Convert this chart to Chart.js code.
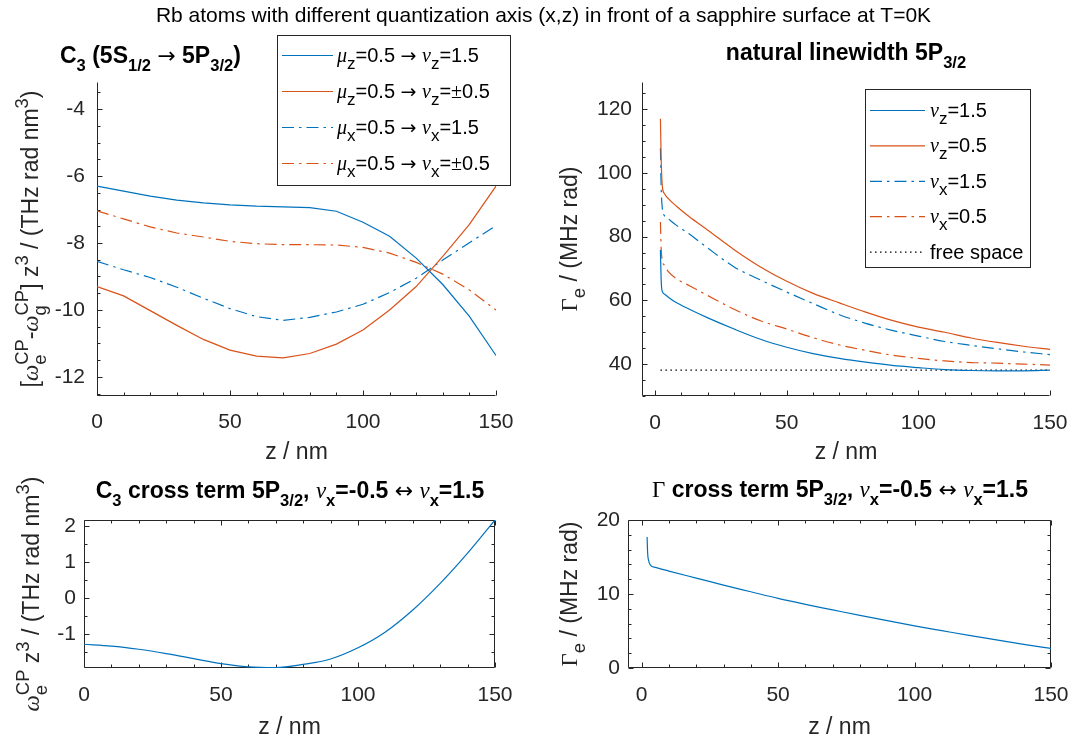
<!DOCTYPE html>
<html>
<head>
<meta charset="utf-8">
<script src="https://cdn.jsdelivr.net/npm/chart.js@4.4.2/dist/chart.umd.min.js"></script>
<style>
  html, body { margin: 0; padding: 0; background: #fff; }
  #fig { position: relative; width: 1086px; height: 742px; }
  #fig canvas { position: absolute; left: 0; top: 0; }
</style>
</head>
<body>
<div id="fig">
  <canvas id="c3" width="1086" height="742"></canvas>
  <canvas id="gamma" width="1086" height="742"></canvas>
  <canvas id="c3cross" width="1086" height="742"></canvas>
  <canvas id="gammacross" width="1086" height="742"></canvas>
</div>
<script>
const SUPTITLE = 'Rb atoms with different quantization axis (x,z) in front of a sapphire surface at T=0K';

// C3 coefficients, z in nm
const z_c3 = [0, 10, 20, 30, 40, 50, 60, 70, 80, 90, 100, 110, 120, 130, 140, 150];
const c3_z15 = [-6.30, -6.45, -6.60, -6.72, -6.80, -6.86, -6.90, -6.92, -6.94, -7.05, -7.38, -7.80, -8.45, -9.24, -10.19, -11.36];
const c3_z05 = [-9.30, -9.58, -10.02, -10.46, -10.88, -11.20, -11.38, -11.43, -11.30, -11.02, -10.60, -10.00, -9.30, -8.40, -7.44, -6.30];
const c3_x15 = [-8.55, -8.80, -9.03, -9.32, -9.65, -9.96, -10.20, -10.31, -10.22, -10.06, -9.83, -9.48, -9.05, -8.51, -7.99, -7.48];
const c3_x05 = [-7.04, -7.28, -7.52, -7.70, -7.82, -7.95, -8.02, -8.05, -8.05, -8.06, -8.13, -8.30, -8.58, -8.93, -9.40, -10.00];
const legend_c3 = [
  '\\mu_{z}=0.5 \\rightarrow \\nu_{z}=1.5',
  '\\mu_{z}=0.5 \\rightarrow \\nu_{z}=\\pm0.5',
  '\\mu_{x}=0.5 \\rightarrow \\nu_{x}=1.5',
  '\\mu_{x}=0.5 \\rightarrow \\nu_{x}=\\pm0.5'
];

// natural linewidth of 5P3/2
const z_gam = [2, 2.3, 2.7, 3.5, 5, 8, 13, 20, 30, 40, 50, 60, 70, 80, 90, 100, 110, 120, 130, 140, 150];
const gam_z15 = [75.8, 66.0, 62.8, 62.0, 61.0, 59.3, 57.2, 54.5, 51.0, 47.8, 45.3, 43.3, 41.8, 40.6, 39.6, 38.9, 38.3, 38.0, 37.9, 37.9, 38.1];
const gam_z05 = [117.0, 104.0, 96.0, 93.5, 91.9, 89.6, 86.2, 82.0, 75.9, 70.5, 66.0, 62.2, 59.2, 56.3, 53.7, 51.6, 50.0, 48.2, 46.8, 45.6, 44.6];
const gam_x15 = [107.7, 95.0, 89.0, 86.6, 85.6, 83.6, 80.8, 76.4, 70.5, 66.4, 62.6, 59.0, 55.5, 52.8, 50.6, 48.8, 47.1, 45.9, 44.8, 43.8, 43.0];
const gam_x05 = [84.6, 76.0, 72.5, 71.0, 69.0, 66.8, 64.6, 61.5, 57.2, 53.6, 51.0, 48.3, 46.0, 44.3, 42.8, 41.8, 41.0, 40.5, 40.3, 40.0, 39.7];
const z_free = [2, 150];
const gam_free = [38.1, 38.1];
const legend_gam = ['\\nu_{z}=1.5', '\\nu_{z}=0.5', '\\nu_{x}=1.5', '\\nu_{x}=0.5', 'free space'];

// cross terms nu_x=-0.5 <-> nu_x=1.5
const z_c3x = [0, 10, 20, 30, 40, 50, 60, 70, 80, 90, 100, 110, 120, 130, 140, 150];
const c3_cross = [-1.28, -1.33, -1.42, -1.54, -1.68, -1.82, -1.91, -1.93, -1.84, -1.69, -1.38, -0.94, -0.33, 0.41, 1.25, 2.17];
const z_gamx = [2, 2.2, 2.5, 3.2, 5, 10, 20, 30, 40, 50, 60, 70, 80, 90, 100, 110, 120, 130, 140, 150];
const gam_cross = [17.7, 15.5, 14.6, 13.9, 13.6, 13.1, 12.15, 11.2, 10.3, 9.4, 8.6, 7.85, 7.1, 6.4, 5.7, 5.05, 4.4, 3.8, 3.2, 2.65];

// tick labels
const xticks_z = [0, 50, 100, 150];
const yticks_c3 = [-12, -10, -8, -6, -4];
const yticks_gam = [40, 60, 80, 100, 120];
const yticks_c3x = [-1, 0, 1, 2];
const yticks_gamx = [0, 10, 20];

const BLUE = '#0072BD', ORANGE = '#D95319', INK = '#262626';
const SANS = '"Liberation Sans", Arial, Helvetica, sans-serif';
const SERIF = '"Liberation Serif", "Times New Roman", serif';
const ARROWS = '"DejaVu Sans", sans-serif';
const DASHDOT = [12, 5, 2.5, 5], DOTTED = [1.5, 3.5];
const YAXIS_W = 60, XAXIS_H = 45;

// --- minimal TeX-ish text: _{..}, ^{..} and a few symbols ---
const SYM = {
  mu: ['μ', 'it'], nu: ['ν', 'it'], omega: ['ω', 'it'], Gamma: ['Γ', 'up'],
  rightarrow: ['→', 'arrow'], leftrightarrow: ['↔', 'arrow'], pm: ['±', 'up']
};

function parseTex(s) {
  const atoms = [];
  let i = 0, buf = '';
  const flush = () => { if (buf) { atoms.push({ t: buf, lvl: 0 }); buf = ''; } };
  while (i < s.length) {
    const c = s[i];
    if (c === '\\') {
      flush();
      let j = i + 1;
      while (j < s.length && /[a-zA-Z]/.test(s[j])) j++;
      const sym = SYM[s.slice(i + 1, j)];
      atoms.push({ t: sym[0], kind: sym[1], lvl: 0 });
      i = j;
    } else if (c === '_' || c === '^') {
      flush();
      const end = s.indexOf('}', i);
      atoms.push({ t: s.slice(i + 2, end), lvl: c === '_' ? -1 : 1 });
      i = end + 1;
    } else {
      buf += c;
      i++;
    }
  }
  flush();
  return atoms;
}

function atomFont(a, fs, bold) {
  if (a.kind === 'it') return 'italic ' + fs + 'px ' + SERIF;
  if (a.kind === 'up') return fs + 'px ' + SERIF;
  if (a.kind === 'arrow') return (fs * 0.95) + 'px ' + ARROWS;
  return (bold ? 'bold ' : '') + fs + 'px ' + SANS;
}

function drawTex(ctx, tex, x, y, o) {
  const size = o.size, scr = o.scr || 0.75;
  const items = [];
  let pos = 0, stackX = 0, stackW = 0, prev = 0;
  for (const a of parseTex(tex)) {
    const fs = a.lvl ? size * scr : size;
    const font = atomFont(a, fs, o.bold);
    ctx.font = font;
    const w = ctx.measureText(a.t).width;
    let ax = pos;
    if (a.lvl && prev && a.lvl !== prev) {
      ax = stackX;
      pos = stackX + Math.max(stackW, w);
    } else {
      if (a.lvl) { stackX = pos; stackW = w; }
      pos += w;
    }
    items.push({ t: a.t, font, dx: ax, dy: a.lvl < 0 ? size * 0.34 : a.lvl > 0 ? -size * 0.42 : 0 });
    prev = a.lvl;
  }
  const x0 = o.align === 'left' ? 0 : o.align === 'right' ? -pos : -pos / 2;
  ctx.save();
  ctx.translate(x, y);
  if (o.rot) ctx.rotate(o.rot);
  ctx.fillStyle = o.color || INK;
  ctx.textAlign = 'left';
  ctx.textBaseline = 'alphabetic';
  for (const it of items) {
    ctx.font = it.font;
    ctx.fillText(it.t, x0 + it.dx, it.dy);
  }
  ctx.restore();
}

function series(label, zs, vals, color, dash, smooth) {
  return {
    label,
    data: zs.map((z, i) => ({ x: z, y: vals[i] })),
    borderColor: color,
    borderWidth: 1.2,
    borderDash: dash || [],
    pointRadius: 0,
    fill: false,
    tension: 0,
    cubicInterpolationMode: smooth ? 'monotone' : 'default'
  };
}

function axis(range, ticks, pad, which) {
  return {
    type: 'linear',
    min: range[0],
    max: range[1],
    afterBuildTicks: s => { s.ticks = ticks.map(v => ({ value: v })); },
    afterFit: s => { if (which === 'x') s.height = XAXIS_H; else s.width = YAXIS_W; },
    grid: { display: false, drawTicks: false },
    border: { display: false },
    ticks: {
      color: INK,
      font: { family: SANS, size: 21 },
      padding: pad,
      maxRotation: 0,
      autoSkip: false,
      callback: v => String(v)
    }
  };
}

// axes lines with inward major/minor ticks
function drawFrame(chart, p) {
  const { ctx, chartArea: a, scales: { x, y } } = chart;
  const L = a.left + 0.5, R = a.right - 0.5, T = a.top + 0.5, B = a.bottom - 0.5;
  ctx.save();
  ctx.strokeStyle = INK;
  ctx.lineWidth = 1;
  ctx.setLineDash([]);
  ctx.beginPath();
  if (p.box) {
    ctx.rect(L, T, R - L, B - T);
  } else {
    ctx.moveTo(L, T); ctx.lineTo(L, B); ctx.lineTo(R, B);
  }
  const axes = [[x, p.xTicks, p.minor[0]], [y, p.yTicks, p.minor[1]]];
  for (const [scale, majors, step] of axes) {
    for (let k = Math.ceil(scale.min / step - 1e-9); k * step <= scale.max + 1e-9; k++) {
      const v = k * step;
      const len = majors.some(m => Math.abs(m - v) < 1e-9) ? 5 : 3;
      const q = Math.round(scale.getPixelForValue(v)) + 0.5;
      if (scale === x) {
        ctx.moveTo(q, B); ctx.lineTo(q, B - len);
        if (p.box) { ctx.moveTo(q, T); ctx.lineTo(q, T + len); }
      } else {
        ctx.moveTo(L, q); ctx.lineTo(L + len, q);
        if (p.box) { ctx.moveTo(R, q); ctx.lineTo(R - len, q); }
      }
    }
  }
  ctx.stroke();
  ctx.restore();
}

function drawTexts(chart, p) {
  const { ctx, chartArea: a } = chart;
  if (p.suptitle) {
    ctx.save();
    ctx.font = '21px ' + SANS;
    ctx.fillStyle = '#000';
    ctx.textAlign = 'center';
    ctx.fillText(p.suptitle, 543.5, 22);
    ctx.restore();
  }
  drawTex(ctx, p.title, p.titleAt[0], p.titleAt[1], { size: 23, bold: true, scr: 0.72, align: p.titleAlign || 'center', color: '#000' });
  drawTex(ctx, 'z / nm', (a.left + a.right) / 2, a.bottom + p.xlabelDy, { size: 23 });
  drawTex(ctx, p.ylabel, p.ylabelX, (a.top + a.bottom) / 2, { size: 23, scr: 0.8, rot: -Math.PI / 2 });

  const g = p.legend;
  if (!g) return;
  ctx.save();
  ctx.fillStyle = '#fff';
  ctx.fillRect(g.box[0], g.box[1], g.box[2] - g.box[0], g.box[3] - g.box[1]);
  ctx.strokeStyle = INK;
  ctx.lineWidth = 1;
  ctx.strokeRect(g.box[0] + 0.5, g.box[1] + 0.5, g.box[2] - g.box[0], g.box[3] - g.box[1]);
  chart.data.datasets.forEach((ds, i) => {
    const ry = g.first + i * g.gap;
    ctx.strokeStyle = ds.borderColor;
    ctx.lineWidth = ds.borderWidth;
    ctx.setLineDash(ds.borderDash);
    ctx.beginPath();
    ctx.moveTo(g.line[0], ry + 0.5);
    ctx.lineTo(g.line[1], ry + 0.5);
    ctx.stroke();
    ctx.setLineDash([]);
    drawTex(ctx, ds.label, g.textX, ry + 7, { size: 20, scr: 0.85, align: 'left', color: '#000' });
  });
  ctx.restore();
}

function panel(id, p) {
  const [l, t, r, b] = p.area;
  new Chart(document.getElementById(id), {
    type: 'line',
    data: { datasets: p.datasets },
    options: {
      responsive: false,
      animation: false,
      devicePixelRatio: 1,
      layout: { padding: { left: l - YAXIS_W, top: t, right: 1086 - r, bottom: 742 - b - XAXIS_H } },
      scales: {
        x: axis(p.x, p.xTicks, p.xPad, 'x'),
        y: axis(p.y, p.yTicks, p.yPad, 'y')
      },
      plugins: { legend: { display: false }, tooltip: { enabled: false } }
    },
    plugins: [{
      id: 'matlabLook',
      beforeDatasetsDraw: chart => drawFrame(chart, p),
      afterDraw: chart => drawTexts(chart, p)
    }]
  });
}

panel('c3', {
  suptitle: SUPTITLE,
  area: [97, 82, 496, 396], x: [0, 150], y: [-12.57, -3.19],
  xTicks: xticks_z, yTicks: yticks_c3, minor: [10, 0.5], box: false,
  xPad: 14, yPad: 12, xlabelDy: 63,
  title: 'C_{3} (5S_{1/2} \\rightarrow 5P_{3/2})', titleAt: [60, 63], titleAlign: 'left',
  ylabel: '[\\omega_{e}^{CP}-\\omega_{g}^{CP}] z^{3} / (THz rad nm^{3})', ylabelX: 38,
  legend: { box: [277, 35, 510, 185], line: [282, 333], textX: 337, first: 55, gap: 36 },
  datasets: [
    series(legend_c3[0], z_c3, c3_z15, BLUE),
    series(legend_c3[1], z_c3, c3_z05, ORANGE),
    series(legend_c3[2], z_c3, c3_x15, BLUE, DASHDOT),
    series(legend_c3[3], z_c3, c3_x05, ORANGE, DASHDOT)
  ]
});

panel('gamma', {
  area: [642, 82, 1050, 396], x: [-5, 150], y: [30, 128.5],
  xTicks: xticks_z, yTicks: yticks_gam, minor: [10, 5], box: false,
  xPad: 15, yPad: 10, xlabelDy: 63,
  title: 'natural linewidth 5P_{3/2}', titleAt: [846, 60],
  ylabel: '\\Gamma_{e} / (MHz rad)', ylabelX: 577,
  legend: { box: [865, 89, 1030, 267], line: [870, 925], textX: 930, first: 110, gap: 35.4 },
  datasets: [
    series(legend_gam[0], z_gam, gam_z15, BLUE, null, true),
    series(legend_gam[1], z_gam, gam_z05, ORANGE, null, true),
    series(legend_gam[2], z_gam, gam_x15, BLUE, DASHDOT, true),
    series(legend_gam[3], z_gam, gam_x05, ORANGE, DASHDOT, true),
    series(legend_gam[4], z_free, gam_free, '#000', DOTTED)
  ]
});

panel('c3cross', {
  area: [84, 520, 495, 668], x: [0, 150], y: [-1.94, 2.17],
  xTicks: xticks_z, yTicks: yticks_c3x, minor: [10, 0.5], box: true,
  xPad: 15, yPad: 8, xlabelDy: 66,
  title: 'C_{3} cross term 5P_{3/2}, \\nu_{x}=-0.5 \\leftrightarrow \\nu_{x}=1.5', titleAt: [290, 498],
  ylabel: '\\omega_{e}^{CP} z^{3} / (THz rad nm^{3})', ylabelX: 39,
  datasets: [series('', z_c3x, c3_cross, BLUE, null, true)]
});

panel('gammacross', {
  area: [628, 520, 1051, 668], x: [-5, 150], y: [0, 20],
  xTicks: xticks_z, yTicks: yticks_gamx, minor: [10, 2], box: true,
  xPad: 15, yPad: 8, xlabelDy: 66,
  title: '\\Gamma cross term 5P_{3/2}, \\nu_{x}=-0.5 \\leftrightarrow \\nu_{x}=1.5', titleAt: [840, 497],
  ylabel: '\\Gamma_{e} / (MHz rad)', ylabelX: 577,
  datasets: [series('', z_gamx, gam_cross, BLUE, null, true)]
});
</script>
</body>
</html>
